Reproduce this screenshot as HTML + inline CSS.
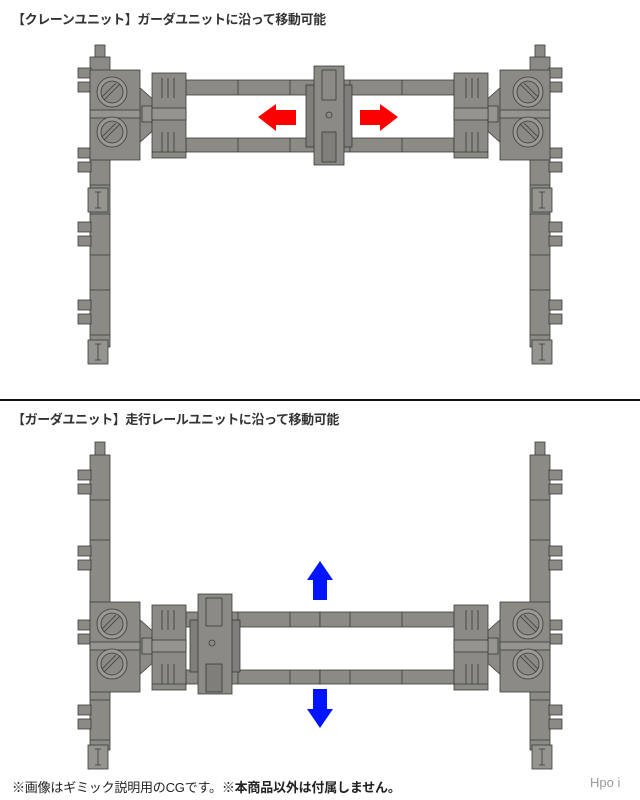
<!DOCTYPE html>
<html><head><meta charset="utf-8"><style>
html,body{margin:0;padding:0;background:#fff;}
body{width:640px;height:800px;overflow:hidden;position:relative;font-family:"Liberation Sans","Noto Sans CJK JP",sans-serif;}
.t{position:absolute;left:12px;font-size:13px;font-weight:bold;color:#333;white-space:nowrap;letter-spacing:-0.4px}
</style></head><body>
<div class="t" style="top:9px">【クレーンユニット】ガーダユニットに沿って移動可能</div>
<div class="t" style="top:409px">【ガーダユニット】走行レールユニットに沿って移動可能</div>
<div style="position:absolute;left:0;top:399px;width:640px;height:2px;background:#111"></div>
<div class="t" style="top:777px;font-weight:normal;color:#222;letter-spacing:-0.2px">※画像はギミック説明用のCGです。<b>※本商品以外は付属しません。</b></div>
<div style="position:absolute;left:590px;top:775px;font-size:13px;color:#999;font-family:'Liberation Sans',sans-serif">Hpo i</div>
<svg width="640" height="800" style="position:absolute;left:0;top:0" xmlns="http://www.w3.org/2000/svg">
<defs>
<g id="blk" stroke="#3a3a3a" stroke-width="0.8" fill="#8b8a85">
  <rect x="186" y="-32" width="134" height="15"/>
  <rect x="186" y="26" width="134" height="14"/>
  <path d="M238 -32v15M290 -32v15M238 26v14M290 26v14" fill="none"/>
  <polygon points="138,-26 156,-10 156,16 138,32"/>
  <rect x="142" y="-6" width="26" height="16" fill="#95948f"/>
  <rect x="152" y="-39" width="34" height="85"/>
  <rect x="152" y="-4" width="34" height="12" fill="#95948f"/>
  <path d="M162 -34v20M168 -34v20M174 -34v20M162 20v20M168 20v20M174 20v20M152 40h34" fill="none"/>
  <rect x="90" y="-42" width="50" height="90"/>
  <rect x="90" y="-2" width="50" height="8" fill="#95948f"/>
  <circle cx="112" cy="-20" r="15" fill="#9b9a95"/>
  <circle cx="112" cy="-20" r="11"/>
  <path d="M104 -12l16 -16M102 -15l14 -14" fill="none"/>
  <circle cx="112" cy="20" r="15" fill="#9b9a95"/>
  <circle cx="112" cy="20" r="11"/>
  <path d="M104 28l16 -16M102 25l14 -14" fill="none"/>
</g>
<g id="nub" stroke="#3a3a3a" stroke-width="0.8" fill="#8b8a85">
  <rect x="78" y="0" width="13" height="10"/>
  <rect x="78" y="14" width="13" height="10"/>
</g>
<g id="con" stroke="#3a3a3a" stroke-width="0.8" fill="#95948f">
  <rect x="88" y="0" width="20" height="24"/>
  <path d="M98 4v16M95 4h6M95 20h6" fill="none"/>
</g>
</defs>

<g id="topL">
  <rect x="95" y="45" width="10" height="14" fill="#8b8a85" stroke="#3a3a3a" stroke-width="0.8"/>
  <rect x="90" y="57" width="20" height="290" fill="#8b8a85" stroke="#3a3a3a" stroke-width="0.8"/>
  <path d="M90 185h20M90 214h20M90 255h20M90 290h20M90 335h20" stroke="#3a3a3a" stroke-width="0.8"/>
  <use href="#nub" y="68"/>
  <use href="#nub" y="148"/>
  <use href="#nub" y="222"/>
  <use href="#nub" y="300"/>
  <use href="#con" y="188"/>
  <use href="#con" y="340"/>
  <use href="#blk" y="112"/>
</g>
<use href="#topL" transform="translate(640,0) scale(-1,1)"/>
<g stroke="#3a3a3a" stroke-width="0.8" fill="#8b8a85">
  <rect x="306" y="85" width="46" height="62" fill="#7f7e7a"/>
  <rect x="314" y="66" width="30" height="99"/>
  <rect x="322" y="70" width="14" height="30"/>
  <rect x="322" y="132" width="14" height="30" fill="#7f7e7a"/>
  <circle cx="329" cy="115" r="3" fill="none"/>
</g>
<polygon points="258,117 276,104 276,110 296,110 296,125 276,125 276,131" fill="#f00"/>
<polygon points="398,117 380,104 380,110 360,110 360,125 380,125 380,131" fill="#f00"/>

<g id="botL">
  <rect x="95" y="442" width="10" height="14" fill="#8b8a85" stroke="#3a3a3a" stroke-width="0.8"/>
  <rect x="90" y="455" width="20" height="295" fill="#8b8a85" stroke="#3a3a3a" stroke-width="0.8"/>
  <path d="M90 500h20M90 540h20M90 700h20M90 740h20" stroke="#3a3a3a" stroke-width="0.8"/>
  <use href="#nub" y="470"/>
  <use href="#nub" y="546"/>
  <use href="#nub" y="620"/>
  <use href="#nub" y="705"/>
  <use href="#con" y="745"/>
  <use href="#blk" y="644"/>
</g>
<use href="#botL" transform="translate(640,0) scale(-1,1)"/>
<g stroke="#3a3a3a" stroke-width="0.8" fill="#8b8a85">
  <rect x="190" y="620" width="50" height="52" fill="#7f7e7a"/>
  <rect x="198" y="594" width="34" height="100"/>
  <rect x="206" y="598" width="16" height="28"/>
  <rect x="206" y="664" width="16" height="28" fill="#7f7e7a"/>
  <circle cx="212" cy="643" r="3" fill="none"/>
</g>
<polygon points="320,561 307,580 313,580 313,600 327,600 327,580 333,580" fill="#0015ff"/>
<polygon points="320,728 307,709 313,709 313,689 327,689 327,709 333,709" fill="#0015ff"/>
</svg>
</body></html>
